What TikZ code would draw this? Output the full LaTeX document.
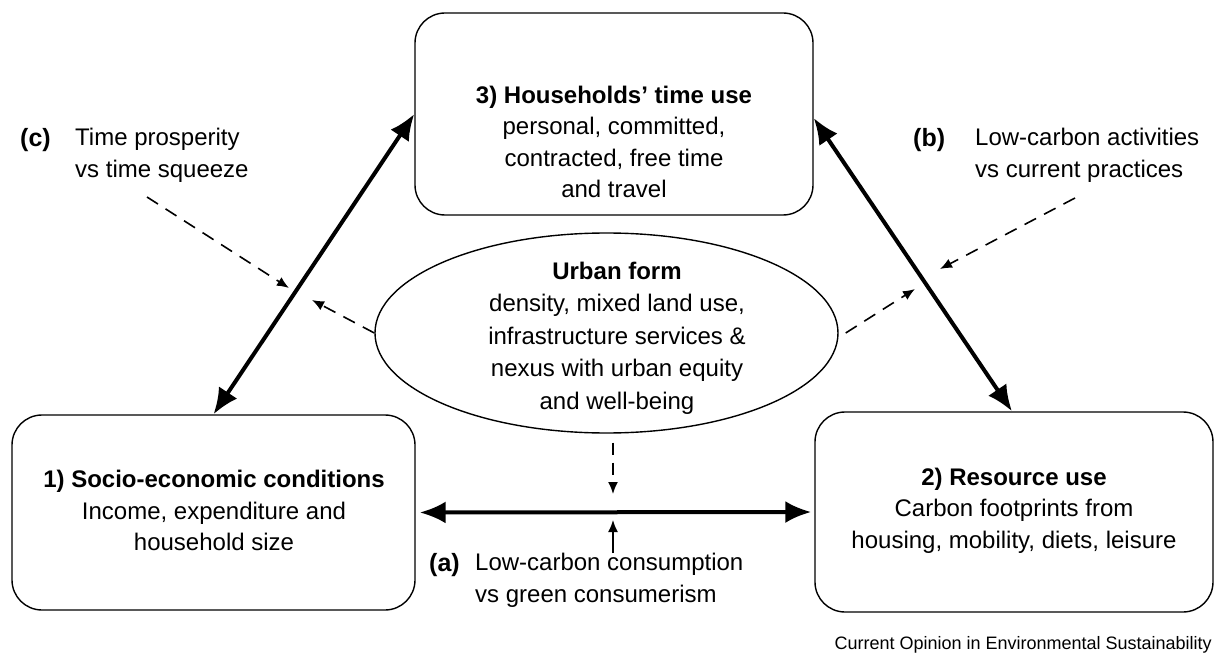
\documentclass[tikz,border=0pt]{standalone}
\usepackage{fontspec}
\setmainfont{Liberation Sans}
\usetikzlibrary{arrows.meta,shapes.geometric}
\begin{document}
\begin{tikzpicture}[x=1pt,y=-1pt,
  box/.style={draw,line width=1.4pt,rounded corners=30pt,align=center,inner sep=0pt},
  txt/.style={font=\fontsize{24}{31.5}\selectfont,align=center,inner sep=0pt},
  lbl/.style={font=\fontsize{24}{31.5}\selectfont,align=left,inner sep=0pt,anchor=north west},
  tag/.style={font=\fontsize{25}{31.5}\selectfont\bfseries,inner sep=0pt,anchor=north west},
  bigarrow/.style={line width=4pt,{Latex[length=26pt,width=22pt]}-{Latex[length=26pt,width=22pt]}},
  dasharrow/.style={line width=1.6pt,dash pattern=on 13pt off 9pt,-{Latex[length=12pt,width=10pt]}},
  thinarrow/.style={line width=1.6pt,-{Latex[length=12pt,width=10pt]}}
]
\useasboundingbox (0,0) rectangle (1219,658);
% boxes
\node[box,minimum width=398pt,minimum height=202pt] (b3) at (614,114) {};
\node[box,minimum width=403pt,minimum height=195pt] (b1) at (213.5,512.5) {};
\node[box,minimum width=398pt,minimum height=200pt] (b2) at (1014,512) {};
\node[draw,ellipse,line width=1.4pt,minimum width=463pt,minimum height=200pt,inner sep=0pt] (uf) at (606.5,333) {};
% box texts
\node[txt] (t3) at (614,142) {\textbf{3) Households' time use}\\personal, committed,\\contracted, free time\\and travel};
\node[txt] (t1) at (214,510.5) {\textbf{1) Socio-economic conditions}\\Income, expenditure and\\household size};
\node[txt] (t2) at (1014,510.5) {\textbf{2) Resource use}\\Carbon footprints from\\housing, mobility, diets, leisure};
\node[txt,font=\fontsize{24}{32.5}\selectfont] (tu) at (617,338) {\textbf{Urban form}\\density, mixed land use,\\infrastructure services \&\\nexus with urban equity\\and well-being};
% side labels
\node[tag] (c) at (20,128) {(c)};
\node[lbl] (lc) at (75,128) {Time prosperity\\vs time squeeze};
\node[tag] (b) at (913,128) {(b)};
\node[lbl] (lb) at (975,128) {Low-carbon activities\\vs current practices};
\node[tag] (a) at (429,553) {(a)};
\node[lbl] (la) at (475,553) {Low-carbon consumption\\vs green consumerism};
\node[font=\fontsize{18}{22}\selectfont,inner sep=0pt,anchor=east] (src) at (1212,645) {Current Opinion in Environmental Sustainability};
% thick arrows
\draw[bigarrow] (b1.north) -- (b3.west);
\draw[bigarrow] ([yshift=-4pt]b3.east) -- ([xshift=-2pt]b2.north);
\draw[bigarrow,shorten <=4pt,shorten >=3pt] (b1.east) -- (b2.west);
% dashed arrows
\coordinate (cs) at (147,197);
\coordinate (ct) at (289,288);
\draw[dasharrow] (cs) -- (ct);
\coordinate (ul) at (312,300);
\draw[dasharrow] (uf.west) -- (ul);
\coordinate (bs) at (1075,198);
\coordinate (bt) at (940,269);
\draw[dasharrow] (bs) -- (bt);
\coordinate (ur) at (915,289);
\draw[dasharrow] ([xshift=7pt]uf.east) -- (ur);
\coordinate (ud) at (613,494);
\draw[dasharrow,dash pattern=on 12pt off 8pt] ([xshift=6.5pt,yshift=-9pt]uf.south) -- (ud);
\coordinate (as) at (613,553);
\coordinate (at) at (613,520);
\draw[thinarrow] (as) -- (at);
\end{tikzpicture}
\end{document}
